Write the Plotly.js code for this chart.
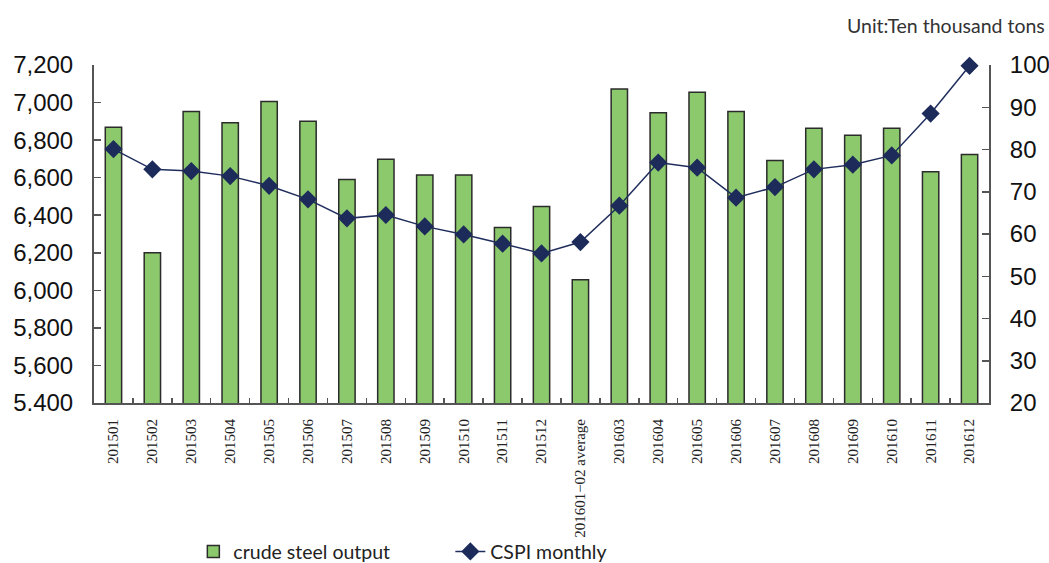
<!DOCTYPE html>
<html>
<head>
<meta charset="utf-8">
<script src="https://cdn.plot.ly/plotly-3.0.1.min.js"></script>
<style>html,body{margin:0;padding:0;background:#fff;}#chart{width:1049px;height:563px;}</style>
</head>
<body>
<div id="chart"></div>
<script>
const categories = ["201501","201502","201503","201504","201505","201506","201507","201508","201509","201510","201511","201512","201601−02 average","201603","201604","201605","201606","201607","201608","201609","201610","201611","201612"];
const crudeSteelOutput = [6868,6200,6953,6893,7005,6900,6590,6698,6614,6614,6335,6446,6057,7072,6946,7055,6953,6691,6863,6826,6863,6632,6724];
const cspiMonthly = [80.1,75.3,74.9,73.7,71.4,68.2,63.7,64.5,61.8,59.9,57.7,55.4,58.1,66.7,76.9,75.7,68.6,71.1,75.3,76.4,78.6,88.5,99.8];
const leftTickVals = [5400,5600,5800,6000,6200,6400,6600,6800,7000,7200];
const leftTickText = ["5.400","5,600","5,800","6,000","6,200","6,400","6,600","6,800","7,000","7,200"];
const rightTickVals = [20,30,40,50,60,70,80,90,100];
const unitLabel = "Unit:Ten thousand tons";

const sansTick = "Liberation Sans, Arial, sans-serif";
const gill = "Lato, Open Sans, sans-serif";

const traces = [
  {
    type: "bar", name: "crude steel output",
    x: categories, y: crudeSteelOutput,
    marker: {color: "#8cc86c", line: {color: "#2b2b2b", width: 1.5}},
    yaxis: "y"
  },
  {
    type: "scatter", mode: "lines+markers", name: "CSPI monthly",
    x: categories, y: cspiMonthly, yaxis: "y2",
    line: {color: "#1f2d5c", width: 1.5},
    marker: {symbol: "diamond", size: 14, color: "#1c2b5a"},
    cliponaxis: false
  }
];

const layout = {
  width: 1049, height: 563,
  margin: {l: 94, r: 60, t: 65, b: 160, autoexpand: false},
  paper_bgcolor: "#fff", plot_bgcolor: "#fff",
  bargap: 0.58,
  showlegend: true,
  legend: {
    orientation: "h", x: 0.111, xanchor: "left", y: -0.44, yanchor: "middle",
    bgcolor: "rgba(0,0,0,0)",
    font: {family: gill, size: 19.5, color: "#222"},
    entrywidth: 212, entrywidthmode: "pixels", traceorder: "normal"
  },
  xaxis: {
    type: "category", automargin: false,
    range: [-0.5, categories.length - 0.5],
    tickangle: -90,
    tickfont: {family: "Liberation Serif, Times New Roman, serif", size: 15, color: "#222"},
    showline: true, linecolor: "#555", linewidth: 2,
    ticks: "inside", ticklen: 5, tickcolor: "#555", tickwidth: 1.5,
    tickson: "boundaries", ticklabelstandoff: 8,
    showgrid: false, zeroline: false
  },
  yaxis: {
    range: [5400, 7200], automargin: false,
    tickvals: leftTickVals, ticktext: leftTickText,
    tickfont: {family: sansTick, size: 24, color: "#111"},
    showline: true, linecolor: "#555", linewidth: 2,
    ticks: "inside", ticklen: 7, tickcolor: "#555", tickwidth: 1.5,
    ticklabelstandoff: 14,
    showgrid: false, zeroline: false
  },
  yaxis2: {
    range: [20, 100], overlaying: "y", side: "right", automargin: false,
    tickvals: rightTickVals,
    tickfont: {family: sansTick, size: 24, color: "#111"},
    showline: true, linecolor: "#555", linewidth: 2,
    ticks: "inside", ticklen: 7, tickcolor: "#555", tickwidth: 1.5,
    ticklabelstandoff: 14,
    showgrid: false, zeroline: false
  },
  annotations: [
    {
      text: unitLabel, xref: "paper", yref: "paper",
      x: 1.0648, y: 1.118, xanchor: "right", yanchor: "middle",
      showarrow: false, font: {family: gill, size: 19.5, color: "#333"}
    }
  ]
};

Plotly.newPlot("chart", traces, layout, {displayModeBar: false, staticPlot: true});
</script>
</body>
</html>
